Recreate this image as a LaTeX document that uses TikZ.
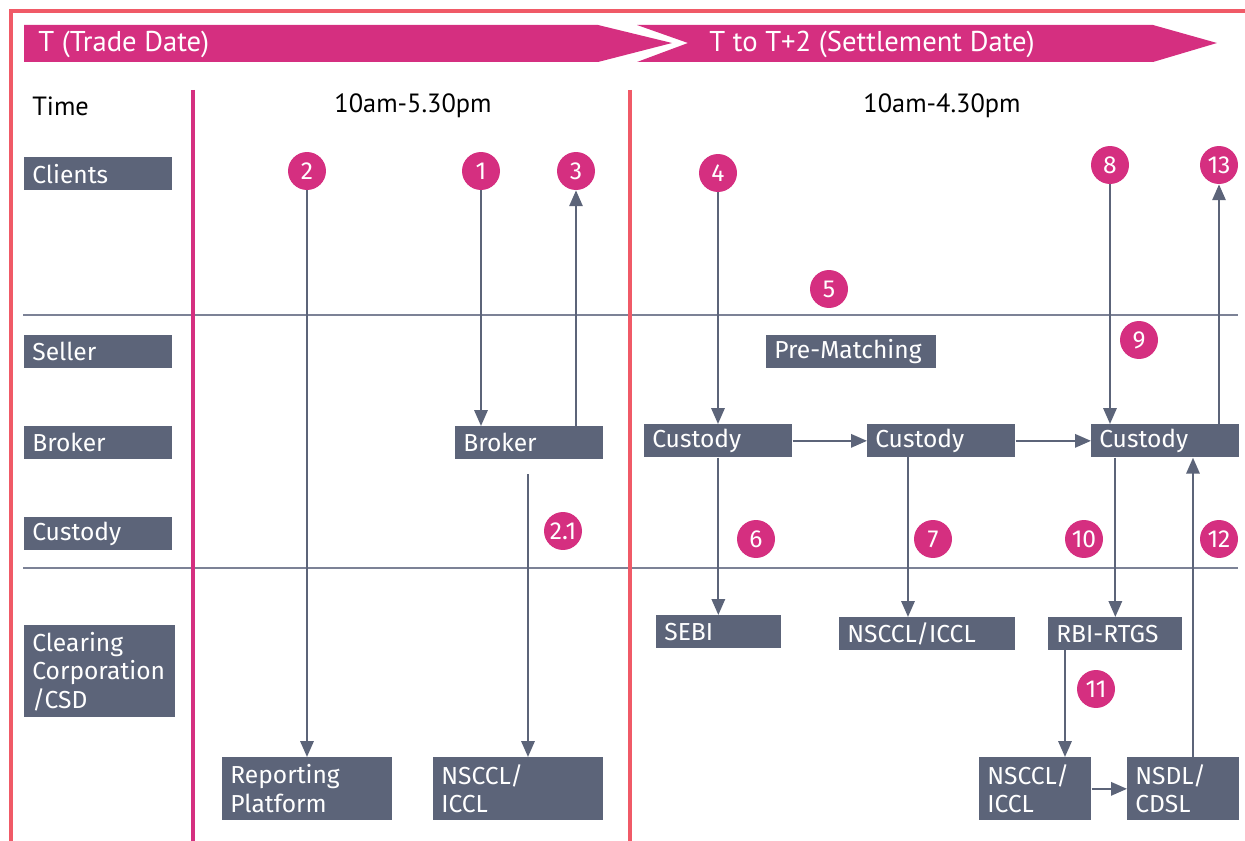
\documentclass[tikz,border=0pt]{standalone}
\usepackage{fontspec}
\setmainfont{Fira Sans}
\newfontfamily\condfont{PT Sans}
\usetikzlibrary{arrows.meta}
\definecolor{slate}{HTML}{5C6479}
\definecolor{accent}{HTML}{D52F80}
\definecolor{coral}{HTML}{F05A67}
\definecolor{rule}{HTML}{7C8296}

\begin{document}
\begin{tikzpicture}[x=0.02cm,y=-0.02cm,
    box/.style={fill=slate,text=white,anchor=north west,inner xsep=0.16cm,inner ysep=0pt,align=left,font=\fontsize{14}{16.3}\selectfont},
    lane/.style={box,text width=2.64cm,minimum height=0.66cm},
    num/.style={circle,fill=accent,text=white,minimum size=0.76cm,inner sep=0pt,font=\fontsize{14}{16}\selectfont},
    flow/.style={draw=slate,line width=1.3pt,-{Triangle[length=9pt,width=7.5pt]}},
    head/.style={anchor=west,text=white,inner sep=0pt,font=\condfont\fontsize{16.3}{19}\selectfont},
    hours/.style={inner sep=0pt,font=\condfont\fontsize{15}{18}\selectfont}]
    \useasboundingbox (0,0) rectangle (1245,841);
    \draw[coral,line width=2.2pt] (11,841) -- (11,11) -- (1245,11);
    \fill[accent] (24,25) -- (598,25) -- (672,43) -- (598,62) -- (24,62) -- cycle;
    \fill[accent] (637,25) -- (1153,25) -- (1217,43) -- (1153,62) -- (637,62) -- (688,43) -- cycle;
    \node[head] (trade) at (38,44) {T (Trade Date)};
    \node[head] (settle) at (709,44) {T to T+2 (Settlement Date)};
    \draw[rule,line width=0.9pt] (23,315) -- (1238,315);
    \draw[rule,line width=0.9pt] (23,568) -- (1238,568);
    \draw[accent,line width=2.2pt] (193,90) -- (193,841);
    \draw[coral,line width=2.2pt] (630,90) -- (630,841);

    \node[hours,anchor=west] (time) at (32,106) {Time};
    \node[hours] (hoursT) at (413,106) {10am-5.30pm};
    \node[hours] (hoursS) at (942,106) {10am-4.30pm};

    \node[lane] (lclients) at (24,157) {Clients};
    \node[lane] (lseller) at (24,335) {Seller};
    \node[lane] (lbroker) at (24,426) {Broker};
    \node[lane] (lcustody) at (24,517) {Custody};
    \node[box,text width=2.70cm,minimum height=1.84cm] (lclearing) at (24,625) {Clearing\\Corporation\\/CSD};

    \node[box,text width=2.64cm,minimum height=0.66cm] (broker) at (455,426) {Broker};
    \node[box,text width=2.64cm,minimum height=0.66cm] (cust1) at (644,424) {Custody};
    \node[box,text width=2.64cm,minimum height=0.66cm] (cust2) at (867,424) {Custody};
    \node[box,text width=2.64cm,minimum height=0.66cm] (cust3) at (1091,424) {Custody};
    \node[box,text width=3.08cm,minimum height=0.66cm] (prematch) at (766,335) {Pre-Matching};
    \node[box,text width=2.18cm,minimum height=0.66cm] (sebi) at (656,615) {SEBI};
    \node[box,text width=3.20cm,minimum height=0.66cm] (nsccl) at (839,617) {NSCCL/ICCL};
    \node[box,text width=2.36cm,minimum height=0.66cm] (rbi) at (1048,617) {RBI-RTGS};
    \node[box,text width=3.08cm,minimum height=1.26cm] (report) at (222,757) {Reporting\\Platform};
    \node[box,text width=3.08cm,minimum height=1.26cm] (nscclA) at (433,757) {NSCCL/\\ICCL};
    \node[box,text width=1.92cm,minimum height=1.26cm] (nscclB) at (979,757) {NSCCL/\\ICCL};
    \node[box,text width=1.92cm,minimum height=1.26cm] (nsdl) at (1127,757) {NSDL/\\CDSL};

    \node[num] (n1) at (481,171) {1};
    \node[num] (n2) at (307,171) {2};
    \node[num] (n21) at (563,531) {2.1};
    \node[num] (n3) at (576,171) {3};
    \node[num] (n4) at (718,173) {4};
    \node[num] (n5) at (829,289) {5};
    \node[num] (n6) at (756,539) {6};
    \node[num] (n7) at (933,539) {7};
    \node[num] (n8) at (1110,165) {8};
    \node[num] (n9) at (1139,340) {9};
    \node[num] (n10) at (1084,539) {10};
    \node[num] (n11) at (1096,689) {11};
    \node[num] (n12) at (1219,539) {12};
    \node[num] (n13) at (1219,165) {13};

    \coordinate (d21) at (528,474);
    \coordinate (d7) at (908,457);
    \coordinate (d11) at (1065,650);
    \coordinate (d12) at (1193,757);

    \draw[flow] (n2) -- (n2 |- report.north);
    \draw[flow] (n1) -- (n1 |- broker.north);
    \draw[flow] (broker.north -| n3) -- (n3);
    \draw[flow] (d21) -- (d21 |- nscclA.north);
    \draw[flow] (n4) -- (n4 |- cust1.north);
    \draw[flow] (cust1) -- (cust1 |- sebi.north);
    \draw[flow] (cust1) -- (cust2);
    \draw[flow] (cust2) -- (cust3);
    \draw[flow] (d7) -- (d7 |- nsccl.north);
    \draw[flow] (n8) -- (n8 |- cust3.north);
    \draw[flow] (cust3.north -| n13) -- (n13);
    \draw[flow] (rbi |- cust3.south) -- (rbi.north);
    \draw[flow] (d11) -- (d11 |- nscclB.north);
    \draw[flow] (nscclB) -- (nsdl);
    \draw[flow] (d12) -- (d12 |- cust3.south);
\end{tikzpicture}
\end{document}
